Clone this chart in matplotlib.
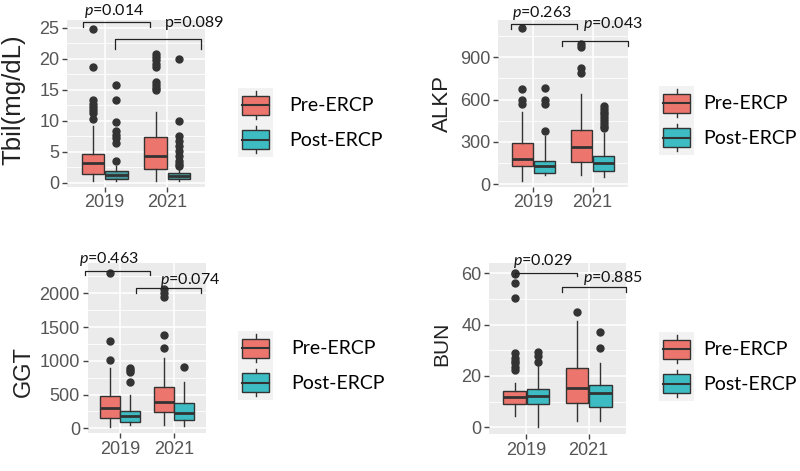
import matplotlib.pyplot as plt
from matplotlib.patches import Rectangle, Patch
from matplotlib.lines import Line2D
from matplotlib.legend_handler import HandlerBase

plt.rcParams['font.family'] = 'Liberation Sans'
plt.rcParams['mathtext.fontset'] = 'custom'
plt.rcParams['mathtext.it'] = 'Lato:italic'
plt.rcParams['mathtext.rm'] = 'Lato'

years = ['2019', '2021']
groups = ['Pre-ERCP', 'Post-ERCP']

# order of boxes: 2019 pre, 2019 post, 2021 pre, 2021 post
tbil_q1 = [1.5, 0.65, 2.25, 0.7]
tbil_med = [3.2, 1.35, 4.4, 1.2]
tbil_q3 = [4.65, 1.9, 7.35, 1.6]
tbil_lo = [0.25, 0.25, 0.3, 0.3]
tbil_hi = [9.1, 2.8, 11.5, 2.5]
tbil_out = [[24.8, 18.6, 13.3, 12.8, 12.3, 11.8, 11.3, 10.3],
            [15.8, 13.3, 9.9, 8.3, 7.8, 7.2, 6.4, 3.5],
            [20.8, 20.3, 19.8, 19.2, 18.6, 16.3, 15.8, 15.3, 15.0],
            [20.0, 10.0, 7.5, 6.7, 5.9, 5.1, 4.3, 3.5, 3.0, 2.7]]

alkp_q1 = [130, 78, 160, 96]
alkp_med = [177, 132, 262, 148]
alkp_q3 = [295, 162, 386, 204]
alkp_lo = [20, 66, 65, 54]
alkp_hi = [515, 340, 640, 360]
alkp_out = [[1105, 673, 597, 569],
            [680, 597, 569, 380],
            [992, 975, 822, 791],
            [555, 535, 515, 495, 475, 455, 435, 415, 397]]

ggt_q1 = [148, 99, 247, 123]
ggt_med = [296, 183, 395, 222]
ggt_q3 = [479, 257, 607, 370]
ggt_lo = [25, 50, 49, 35]
ggt_hi = [900, 494, 1037, 691]
ggt_out = [[2306, 1299, 1012],
           [890, 860, 830, 690],
           [2059, 2000, 1950, 1383, 1185],
           [913]]

bun_q1 = [9.1, 9.1, 9.4, 8.1]
bun_med = [11.9, 12.3, 15.5, 13.2]
bun_q3 = [14.3, 14.9, 23.2, 16.4]
bun_lo = [4.4, 0.3, 2.6, 2.6]
bun_hi = [17.1, 24.3, 41.6, 25.2]
bun_out = [[60.2, 59.8, 56.4, 50.3, 29, 27, 26, 25, 23.5, 22.2],
           [29.5, 27.8, 25.6],
           [45.1],
           [37.3, 30.8]]

pre_col = '#EC766D'
post_col = '#3EBCC3'
post_dark = '#449A9C'

W, H = 800, 471
fig = plt.figure(figsize=(8, 4.71), dpi=100)


def px_axes(l, t, r, b):
    return fig.add_axes([l / W, 1 - b / H, (r - l) / W, (b - t) / H])


def draw_boxes(ax, q1, med, q3, lo, hi, out, post):
    stats = []
    for i in range(4):
        stats.append(dict(q1=q1[i], med=med[i], q3=q3[i], whislo=lo[i],
                          whishi=hi[i], fliers=out[i]))
    pos = [0.8125, 1.1875, 1.8125, 2.1875]
    bp = ax.bxp(stats, positions=pos, widths=0.36, patch_artist=True,
                showcaps=False, manage_ticks=False,
                boxprops=dict(edgecolor='#333333', linewidth=1),
                whiskerprops=dict(color='#333333', linewidth=1),
                medianprops=dict(color='#333333', linewidth=2),
                flierprops=dict(marker='o', markerfacecolor='#333333',
                                markeredgecolor='#333333', markersize=5))
    for patch, c in zip(bp['boxes'], [pre_col, post, pre_col, post]):
        patch.set_facecolor(c)


def style(ax, ylim, major, minor, ylabel, labsize, lx, ly):
    ax.set_facecolor('#EBEBEB')
    ax.set_axisbelow(True)
    for s in ax.spines.values():
        s.set_visible(False)
    ax.set_xlim(0.4, 2.6)
    ax.set_ylim(*ylim)
    ax.set_xticks([1, 2])
    ax.set_xticklabels(years)
    ax.set_yticks(major)
    ax.set_yticks(minor, minor=True)
    ax.grid(which='major', color='white', linewidth=1.1)
    ax.grid(which='minor', axis='y', color='white', linewidth=0.6)
    ax.tick_params(which='major', length=3.5, width=1, color='#444444',
                   labelcolor='#555555', labelsize=13, pad=2)
    ax.tick_params(which='minor', length=0)
    ax.set_ylabel(ylabel, fontsize=labsize, color='#222222', va='center')
    ax.yaxis.set_label_coords(lx, ly)


def bracket(ax, x0, x1, y, yt, label, tx, ty):
    ax.plot([x0, x0, x1, x1], [yt, y, y, yt], color='#222222', lw=0.9,
            clip_on=False)
    ax.text(tx, ty, label, ha='center', va='center', fontsize=11.5,
            family='Lato', color='#111111', clip_on=False)


class BoxKey(HandlerBase):
    def create_artists(self, legend, orig_handle, xdescent, ydescent,
                       width, height, fontsize, trans):
        x0, y0 = -xdescent, -ydescent
        bg = Rectangle((x0, y0), width, height, facecolor='#F2F2F2',
                       edgecolor='none', transform=trans)
        bw, bh = 0.76 * width, 0.55 * height
        bx, by = x0 + (width - bw) / 2, y0 + (height - bh) / 2
        cx = x0 + width / 2
        w1 = Line2D([cx, cx], [y0 + 0.1 * height, by], color='#333333',
                    lw=1, transform=trans)
        w2 = Line2D([cx, cx], [by + bh, y0 + 0.9 * height], color='#333333',
                    lw=1, transform=trans)
        box = Rectangle((bx, by), bw, bh, facecolor=orig_handle.get_facecolor(),
                        edgecolor='#333333', lw=1, transform=trans)
        med = Line2D([bx, bx + bw], [by + bh / 2] * 2, color='#333333',
                     lw=1.5, transform=trans)
        return [bg, w1, w2, box, med]


def legend(ax, x, y, pad):
    handles = [Patch(facecolor=pre_col), Patch(facecolor=post_col)]
    ax.legend(handles, groups, handler_map={Patch: BoxKey()},
              loc='upper left', bbox_to_anchor=(x / W, 1 - y / H),
              bbox_transform=fig.transFigure, frameon=False, borderpad=0,
              borderaxespad=0, labelspacing=0, handlelength=1.8,
              handleheight=2.35, handletextpad=pad,
              prop=dict(family='Lato', size=14))


# Tbil
ax1 = px_axes(67, 20, 205, 186.7)
draw_boxes(ax1, tbil_q1, tbil_med, tbil_q3, tbil_lo, tbil_hi, tbil_out, post_dark)
style(ax1, (-0.6, 26.25), [0, 5, 10, 15, 20, 25], [2.5, 7.5, 12.5, 17.5, 22.5],
      'Tbil(mg/dL)', 18.5, -0.385, 0.52)
bracket(ax1, 0.65, 1.72, 25.9, 25.1, r'$p$=0.014', 1.15, 27.75)
bracket(ax1, 1.16, 2.54, 23.2, 21.6, 'p=0.089', 2.43, 25.8)
legend(ax1, 238, 88, 0.85)

# ALKP
ax2 = px_axes(498, 20, 628, 186.7)
draw_boxes(ax2, alkp_q1, alkp_med, alkp_q3, alkp_lo, alkp_hi, alkp_out, post_col)
style(ax2, (-17, 1164), [0, 300, 600, 900], [150, 450, 750, 1050],
      'ALKP', 16, -0.43, 0.5)
bracket(ax2, 0.62, 1.74, 1136, 1101, r'$p$=0.263', 1.15, 1215)
bracket(ax2, 1.48, 2.6, 1016, 980, r'$p$=0.043', 2.35, 1136)
legend(ax2, 659, 86, 0.5)

# GGT
ax3 = px_axes(87.6, 263, 206.4, 433)
draw_boxes(ax3, ggt_q1, ggt_med, ggt_q3, ggt_lo, ggt_hi, ggt_out, post_col)
style(ax3, (-70, 2449), [0, 500, 1000, 1500, 2000], [250, 750, 1250, 1750, 2250],
      'GGT', 17, -0.54, 0.36)
bracket(ax3, 0.35, 1.56, 2330, 2271, r'$p$=0.463', 0.80, 2508)
bracket(ax3, 1.30, 2.5, 2074, 2009, r'$p$=0.074', 2.30, 2197)
legend(ax3, 238, 331, 0.95)

# BUN
ax4 = px_axes(489, 263, 626, 434)
draw_boxes(ax4, bun_q1, bun_med, bun_q3, bun_lo, bun_hi, bun_out, post_col)
style(ax4, (-2.6, 64.0), [0, 20, 40, 60], [10, 30, 50],
      'BUN', 15, -0.343, 0.53)
bracket(ax4, 0.81, 1.81, 60.2, 59.1, r'$p$=0.029', 1.27, 64.9)
bracket(ax4, 1.565, 2.6, 54.5, 52.6, r'$p$=0.885', 2.39, 58.2)
legend(ax4, 659, 332, 0.5)

plt.savefig('out.png', dpi=100)
